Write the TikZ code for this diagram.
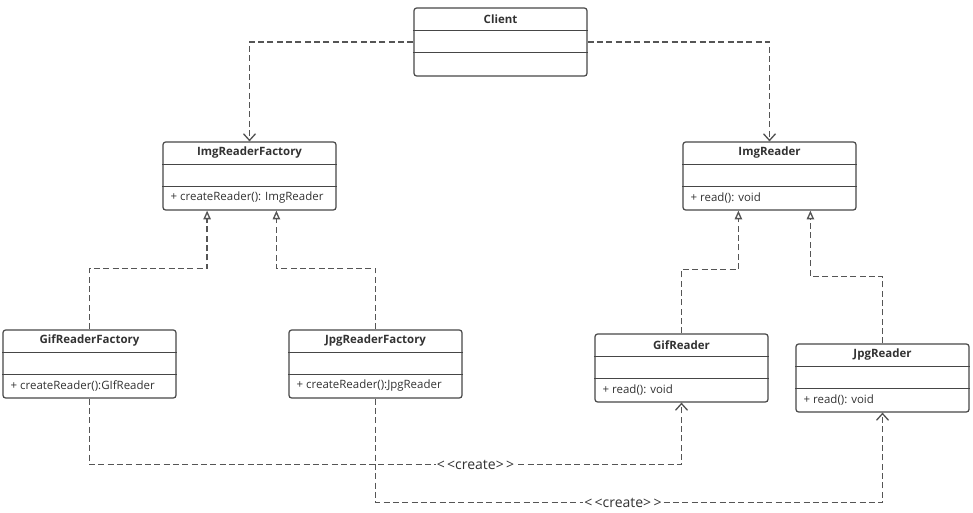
\documentclass[tikz,border=0pt]{standalone}
\usepackage{fontspec}
\setmainfont{Open Sans}
\usetikzlibrary{arrows.meta,calc}

\begin{document}
\begin{tikzpicture}[
    x=0.75pt, y=-0.75pt,
    every node/.style={font=\fontsize{8.6}{10}\selectfont, text=textgray},
    classbox/.style={draw=boxline, line width=0.9pt, rounded corners=2pt,
        minimum width=129.75pt, minimum height=51pt, inner sep=0pt},
    sepline/.style={draw=boxline, line width=0.8pt},
    conn/.style={draw=linegray, line width=1pt, dash pattern=on 4.5pt off 2.5pt},
    depend/.style={conn, -{Straight Barb[length=5pt, width=9pt]}},
    realize/.style={conn, -{Triangle[open, length=6.5pt, width=5.5pt, fill=white]}},
    stereo/.style={fill=white, inner sep=1pt, font=\fontsize{10.5}{12}\selectfont},
]

\definecolor{boxline}{RGB}{70,70,70}
\definecolor{linegray}{RGB}{85,85,85}
\definecolor{textgray}{RGB}{50,50,50}

\useasboundingbox (0,0) rectangle (973,512);

% ---------- macro: UML class box with three compartments ----------
% #1 = node name, #2 = left x, #3 = top y (pixels, y down)
% #4 = class name (bold), #5 = operation in the last compartment
\newcommand{\umlclass}[5]{%
    \node[classbox] (#1) at (#2+86.5,#3+34) {};
    % compartment separators
    \draw[sepline] ($(#1.north west)+(0,23)$) -- ($(#1.north east)+(0,23)$);
    \draw[sepline] ($(#1.north west)+(0,45)$) -- ($(#1.north east)+(0,45)$);
    \node[font=\fontsize{8.6}{10}\selectfont\bfseries] (#1-name)
        at ($(#1.north)+(0,11.5)$) {#4};
    \node[anchor=west, inner sep=0pt] (#1-op)
        at ($(#1.north west)+(8,56.5)$) {#5};
}

\umlclass{client}{414}{8}{Client}{}
\umlclass{imgfactory}{163}{142}{ImgReaderFactory}{+ createReader(): ImgReader}
\umlclass{imgreader}{683}{142}{ImgReader}{+ read(): void}
\umlclass{giffactory}{3}{330}{GifReaderFactory}{+ createReader():GIfReader}
\umlclass{jpgfactory}{289}{330}{JpgReaderFactory}{+ createReader():JpgReader}
\umlclass{gifreader}{595}{334}{GifReader}{+ read(): void}
\umlclass{jpgreader}{796}{344}{JpgReader}{+ read(): void}

% client uses both abstractions
\draw[depend] (client.west) -| (imgfactory.north);
\draw[depend] (client.east) -| (imgreader.north);

% factories realize ImgReaderFactory
\draw[realize] (giffactory.north) -- ++(0,-61)
    -| ($(imgfactory.south west)+(44.7,0)$);
\draw[realize] (jpgfactory.north) -- ++(0,-61)
    -| ($(imgfactory.south west)+(114,0)$);

% readers realize ImgReader
\draw[realize] (gifreader.north) -- ++(0,-64)
    -| ($(imgreader.south west)+(56,0)$);
\draw[realize] (jpgreader.north) -- ++(0,-67)
    -| ($(imgreader.south west)+(128,0)$);

% factories create their readers
\draw[depend] (giffactory.south) -- ++(0,66)
    -| node[stereo, pos=0.326] (create-gif) {<\,<create>\,>} (gifreader.south);
\draw[depend] (jpgfactory.south) -- ++(0,104)
    -| node[stereo, pos=0.244] (create-jpg) {<\,<create>\,>} (jpgreader.south);

\end{tikzpicture}
\end{document}
